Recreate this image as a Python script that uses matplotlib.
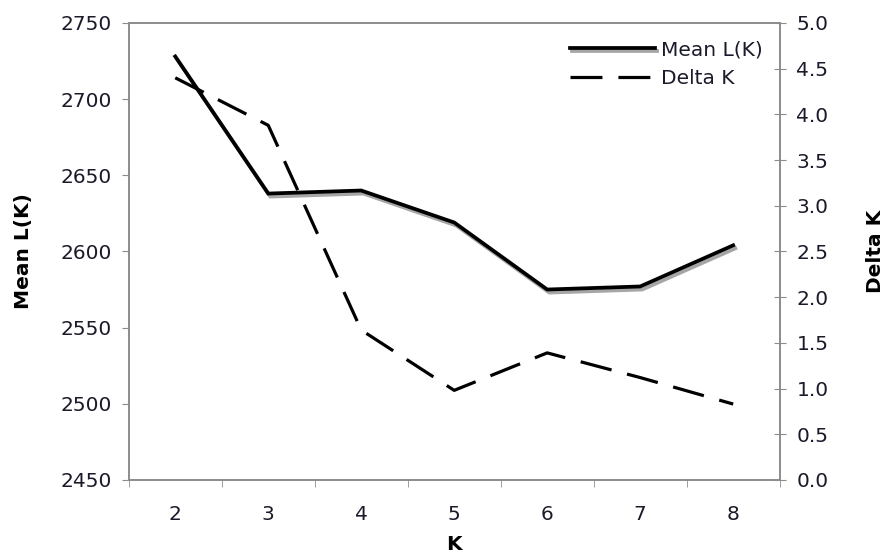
import matplotlib
matplotlib.use("Agg")
import matplotlib.pyplot as plt
import matplotlib.patheffects as pe

# %% data
k_values = ["2", "3", "4", "5", "6", "7", "8"]
mean_lk = [2728, 2638, 2640, 2619, 2575, 2577, 2604]
delta_k = [4.40, 3.88, 1.64, 0.98, 1.39, 1.12, 0.83]

left_ticks = [2450, 2500, 2550, 2600, 2650, 2700, 2750]
right_ticks = [0.0, 0.5, 1.0, 1.5, 2.0, 2.5, 3.0, 3.5, 4.0, 4.5, 5.0]

# %% figure
plt.rcParams["font.family"] = ["DejaVu Sans"]
fig = plt.figure(figsize=(8.88, 5.6), dpi=100)
ax = fig.add_axes([0.145, 0.143, 0.733, 0.816])
ax2 = ax.twinx()

x = range(len(k_values))
grey = "#8c8c8c"
text_col = "#1a1a2a"
fs = 14.5

line1, = ax.plot(x, mean_lk, color="black", lw=2.7, solid_joinstyle="miter",
                 label="Mean L(K)",
                 path_effects=[pe.SimpleLineShadow(offset=(1.5, -2.2), shadow_color="grey", alpha=0.7),
                               pe.Normal()])
line2, = ax2.plot(x, delta_k, color="black", lw=2.3, dashes=(10, 5), label="Delta K")

ax.set_xlim(-0.5, len(k_values) - 0.5)
ax.set_ylim(2450, 2750)
ax2.set_ylim(0, 5)
ax.set_yticks(left_ticks)
ax2.set_yticks(right_ticks)
ax2.set_yticklabels([f"{v:.1f}" for v in right_ticks])

# category labels in the middle, tick marks on the boundaries
ax.set_xticks(list(x))
ax.set_xticklabels(k_values)
ax.set_xticks([i - 0.5 for i in range(len(k_values) + 1)], minor=True)
ax.tick_params(axis="x", which="major", length=0, pad=18, labelsize=fs, labelcolor=text_col)
ax.tick_params(axis="x", which="minor", length=5, color=grey, direction="out")
ax.tick_params(axis="y", length=5, color=grey, labelsize=fs, labelcolor=text_col, pad=7)
ax2.tick_params(axis="y", length=8, color=grey, direction="inout", labelsize=fs, labelcolor=text_col, pad=8)

for a in (ax, ax2):
    for s in a.spines.values():
        s.set_color(grey)
        s.set_linewidth(1.2)

ax.set_xlabel("K", fontsize=fs, fontweight="bold", labelpad=8)
ax.set_ylabel("Mean L(K)", fontsize=fs, fontweight="bold", labelpad=20)
ax2.set_ylabel("Delta K", fontsize=fs, fontweight="bold", rotation=90, labelpad=27)

leg = ax.legend(handles=[line1, line2], loc="upper right", frameon=False,
                fontsize=fs, handlelength=4.2, handletextpad=0.3,
                borderaxespad=0.45, labelspacing=0.5, borderpad=0.4)
for t in leg.get_texts():
    t.set_color(text_col)

fig.savefig("out.png", dpi=100)
